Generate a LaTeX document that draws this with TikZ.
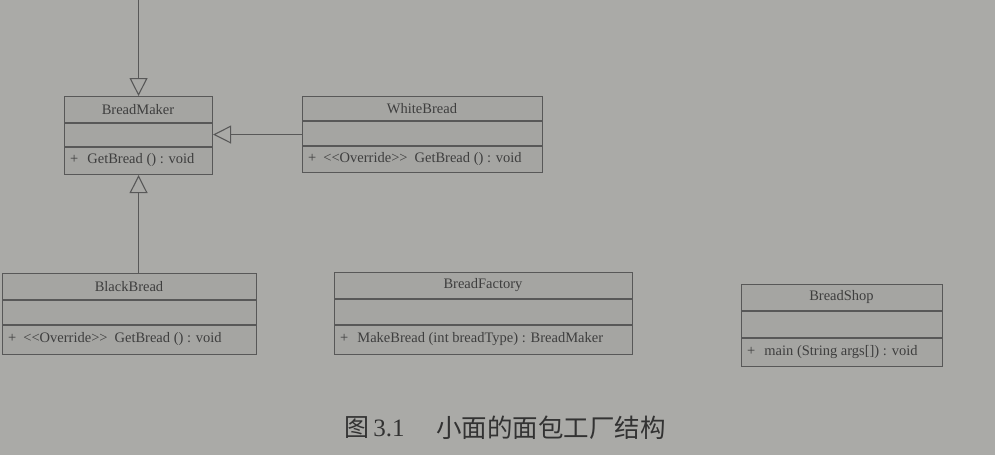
\documentclass[tikz,border=0pt]{standalone}
\usepackage{fontspec}
\setmainfont{Liberation Serif}
\newfontfamily\cjk{Noto Sans CJK SC}
\usetikzlibrary{arrows.meta}
\definecolor{bg}{RGB}{170,170,167}
\definecolor{boxfill}{RGB}{165,165,162}
\definecolor{ln}{RGB}{88,88,88}
\definecolor{txt}{RGB}{62,62,62}
\tikzset{
  classbox/.style={draw=ln, line width=1.1pt, fill=boxfill, inner sep=0pt, anchor=north west},
  sepline/.style={draw=ln, line width=1.1pt},
  titletext/.style={text=txt, font=\fontsize{14.5}{16}\selectfont, inner sep=0pt},
  optext/.style={text=txt, font=\fontsize{14.5}{16}\selectfont, inner sep=0pt, anchor=west},
  gen/.style={draw=ln, line width=1.1pt, -{Triangle[open, length=18pt, width=18pt, fill=bg]}},
  caption/.style={text=txt!80!black, inner sep=0pt, anchor=west}
}
% name, x1, y1, x2, y2, ya, yb, title, op
\def\UmlClass#1#2#3#4#5#6#7#8#9{%
  \node[classbox, minimum width={(#4-#2)*1pt}, minimum height={(#5-#3)*1pt}] (#1) at (#2,#3) {};
  \draw[sepline] (#2,#6) -- (#4,#6);
  \draw[sepline] (#2,#7) -- (#4,#7);
  \node[titletext] (#1-title) at ({(#2+#4)/2},{(#3+#6)/2}) {#8};
  \node[optext] (#1-op) at ({#2+6},{(#7+#5)/2}) {#9};
}
\begin{document}
\begin{tikzpicture}[x=1pt,y=-1pt]
\fill[bg] (0,0) rectangle (995,455);
\useasboundingbox (0,0) rectangle (995,455);

\UmlClass{BreadMaker}{64}{96}{212}{174}{123}{147}{BreadMaker}{+\hspace{9pt}GetBread () : void}
\UmlClass{WhiteBread}{302}{96}{542}{172}{121}{146}{WhiteBread}{+\hspace{7pt}<{}<Override>{}>\hspace{7pt}GetBread () : void}
\UmlClass{BlackBread}{2}{273}{256}{354}{300}{325}{BlackBread}{+\hspace{7pt}<{}<Override>{}>\hspace{7pt}GetBread () : void}
\UmlClass{BreadFactory}{334}{272}{632}{354}{299}{325}{BreadFactory}{+\hspace{9pt}MakeBread (int breadType) : BreadMaker}
\UmlClass{BreadShop}{741}{284}{942}{366}{311}{338}{BreadShop}{+\hspace{9pt}main (String args[]) : void}

\coordinate (topend) at (BreadMaker.north |- 0,0);
\draw[gen] (topend) -- (BreadMaker.north);
\draw[gen] (WhiteBread.west) -- (WhiteBread.west -| BreadMaker.east);
\draw[gen] (BlackBread.north -| BreadMaker.south) -- (BreadMaker.south);

\node[caption, font=\fontsize{25}{28}\selectfont] (capnum) at (344,428) {{\cjk 图}\,3.1};
\node[caption, font=\cjk\fontsize{25.5}{28}\selectfont] (captext) at (436,428) {小面的面包工厂结构};
\end{tikzpicture}
\end{document}
